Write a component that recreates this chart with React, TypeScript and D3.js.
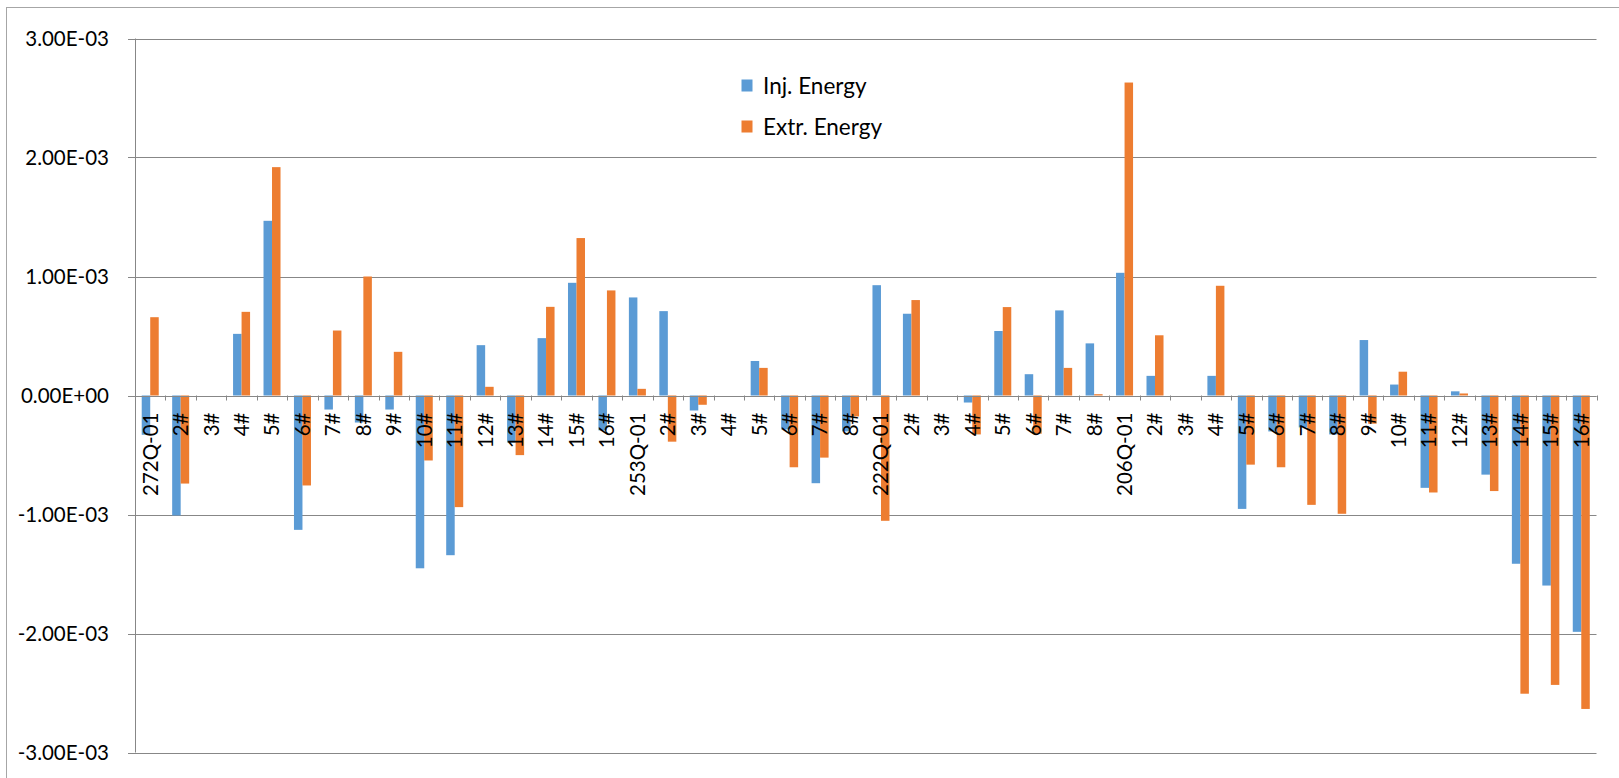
import React from "react";
import * as d3 from "d3";

// Well labels along the category axis (four well groups)
const categories: string[] = [
  "272Q-01", "2#", "3#", "4#", "5#", "6#", "7#", "8#", "9#", "10#", "11#", "12#", "13#", "14#", "15#", "16#",
  "253Q-01", "2#", "3#", "4#", "5#", "6#", "7#", "8#",
  "222Q-01", "2#", "3#", "4#", "5#", "6#", "7#", "8#",
  "206Q-01", "2#", "3#", "4#", "5#", "6#", "7#", "8#", "9#", "10#", "11#", "12#", "13#", "14#", "15#", "16#",
];

// Injection energy per well
const injEnergy: number[] = [
  -0.33e-3, -1.008e-3, 0, 0.518e-3, 1.468e-3, -1.129e-3, -0.118e-3, -0.227e-3, -0.118e-3, -1.452e-3, -1.342e-3, 0.423e-3, -0.395e-3, 0.482e-3, 0.947e-3, -0.293e-3,
  0.824e-3, 0.709e-3, -0.126e-3, 0, 0.29e-3, -0.285e-3, -0.737e-3, -0.302e-3,
  0.927e-3, 0.687e-3, 0, -0.059e-3, 0.542e-3, 0.179e-3, 0.715e-3, 0.438e-3,
  1.031e-3, 0.165e-3, 0, 0.165e-3, -0.953e-3, -0.302e-3, -0.268e-3, -0.327e-3, 0.466e-3, 0.092e-3, -0.776e-3, 0.035e-3, -0.665e-3, -1.414e-3, -1.597e-3, -1.986e-3,
];

// Extraction energy per well
const extrEnergy: number[] = [
  0.658e-3, -0.74e-3, 0, 0.703e-3, 1.919e-3, -0.756e-3, 0.546e-3, 1.0e-3, 0.367e-3, -0.546e-3, -0.938e-3, 0.073e-3, -0.501e-3, 0.745e-3, 1.323e-3, 0.883e-3,
  0.056e-3, -0.388e-3, -0.078e-3, 0, 0.232e-3, -0.603e-3, -0.522e-3, -0.176e-3,
  -1.053e-3, 0.802e-3, 0, -0.327e-3, 0.743e-3, -0.321e-3, 0.232e-3, 0.011e-3,
  2.63e-3, 0.506e-3, 0, 0.922e-3, -0.581e-3, -0.603e-3, -0.919e-3, -0.994e-3, -0.237e-3, 0.2e-3, -0.815e-3, 0.017e-3, -0.803e-3, -2.506e-3, -2.432e-3, -2.634e-3,
];

const yTickValues: number[] = [-3e-3, -2e-3, -1e-3, 0, 1e-3, 2e-3, 3e-3];
const yTickLabels: string[] = ["-3.00E-03", "-2.00E-03", "-1.00E-03", "0.00E+00", "1.00E-03", "2.00E-03", "3.00E-03"];

const seriesNames: string[] = ["Inj. Energy", "Extr. Energy"];
const seriesColors: string[] = ["#5B9BD5", "#ED7D31"];

const W = 1619;
const H = 778;
const FONT = "Lato, 'Open Sans', sans-serif";
const GRID = "#878787";

export default function App() {
  const left = 135;
  const right = 1596.5;
  const top = 38.5;
  const bottom = 752.5;

  const x = d3
    .scaleBand<number>()
    .domain(d3.range(categories.length))
    .range([left, right])
    .paddingInner(0)
    .paddingOuter(0);
  const y = d3.scaleLinear().domain([-3e-3, 3e-3]).range([bottom, top]);

  const bw = x.bandwidth();
  const barW = bw / (2 + 1.58);
  const y0 = y(0);

  const series = [injEnergy, extrEnergy];

  return (
    <svg
      width={W}
      height={H}
      style={{ position: "absolute", left: 0, top: 0, display: "block", background: "#fff" }}
      fontFamily={FONT}
    >
      {/* chart area border */}
      <rect x={6.5} y={7.5} width={W + 20} height={H + 20} fill="#fff" stroke="#A6A6A6" strokeWidth={1} />

      {/* horizontal gridlines and y ticks */}
      {yTickValues.map((v, i) => (
        <g key={"g" + i}>
          <line x1={left} x2={right} y1={Math.round(y(v)) + 0.5} y2={Math.round(y(v)) + 0.5} stroke={GRID} strokeWidth={1} />
          <line x1={left - 7} x2={left} y1={Math.round(y(v)) + 0.5} y2={Math.round(y(v)) + 0.5} stroke={GRID} strokeWidth={1} />
          <text x={109} y={y(v)} dy="0.36em" textAnchor="end" fontSize={20.5} fill="#000">
            {yTickLabels[i]}
          </text>
        </g>
      ))}

      {/* y axis line */}
      <line x1={left + 0.5} x2={left + 0.5} y1={top} y2={bottom} stroke={GRID} strokeWidth={1} />

      {/* bars */}
      {series.map((vals, s) =>
        vals.map((v, i) => {
          const bx = (x(i) as number) + bw / 2 - barW + s * barW;
          const yv = y(v);
          return (
            <rect
              key={`b${s}-${i}`}
              x={bx}
              y={Math.min(yv, y0)}
              width={barW}
              height={Math.abs(yv - y0)}
              fill={seriesColors[s]}
            />
          );
        })
      )}

      {/* category axis line and tick marks */}
      <line x1={left} x2={right} y1={Math.round(y0) + 0.5} y2={Math.round(y0) + 0.5} stroke={GRID} strokeWidth={1} />
      {d3.range(categories.length + 1).map((i) => {
        const tx = Math.round(left + i * bw) + 0.5;
        return <line key={"t" + i} x1={tx} x2={tx} y1={y0} y2={y0 + 5} stroke={GRID} strokeWidth={1} />;
      })}

      {/* category labels, rotated */}
      {categories.map((c, i) => {
        const cx = (x(i) as number) + bw / 2;
        return (
          <text
            key={"c" + i}
            transform={`translate(${cx},${y0 + 17}) rotate(-90)`}
            textAnchor="end"
            dy="0.36em"
            fontSize={20.5}
            fill="#000"
          >
            {c}
          </text>
        );
      })}

      {/* legend */}
      {seriesNames.map((n, i) => {
        const cy = 85.5 + i * 41;
        return (
          <g key={"l" + i}>
            <rect x={741.5} y={cy - 6} width={11} height={12} fill={seriesColors[i]} />
            <text x={763} y={cy} dy="0.36em" fontSize={22.5} fill="#000">
              {n}
            </text>
          </g>
        );
      })}
    </svg>
  );
}
